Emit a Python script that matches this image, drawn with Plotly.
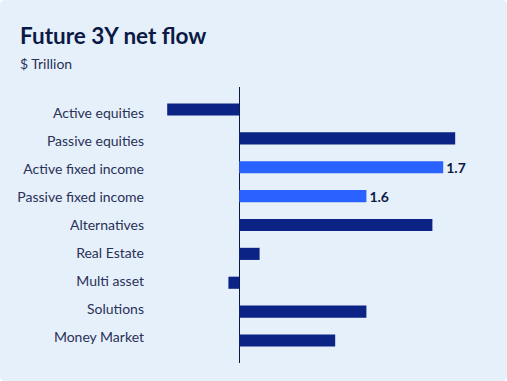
import plotly.graph_objects as go

categories = ["Active equities", "Passive equities", "Active fixed income",
              "Passive fixed income", "Alternatives", "Real Estate",
              "Multi asset", "Solutions", "Money Market"]
values = [-0.60, 1.80, 1.70, 1.06, 1.61, 0.17, -0.09, 1.06, 0.80]
value_labels = ["", "", "1.7", "1.6", "", "", "", "", ""]
highlight = [False, False, True, True, False, False, False, False, False]

DARK = "#0A2384"
BRIGHT = "#2962FF"
colors = [BRIGHT if h else DARK for h in highlight]

W, H = 507, 381
ML, MR, MT, MB = 160, 17, 87, 18
FONT = "Lato"

fig = go.Figure()
fig.add_trace(go.Bar(
    y=categories, x=values, orientation="h",
    marker=dict(color=colors, line=dict(width=0)),
    text=value_labels, textposition="outside", cliponaxis=False,
    constraintext="none",
    textfont=dict(family=FONT, size=14, color="#0B1A45", weight="bold"),
    hoverinfo="skip",
))
# invisible trace carrying the category labels on a slightly tighter axis
fig.add_trace(go.Scatter(
    y=categories, x=[0] * len(categories), yaxis="y2", mode="markers",
    marker=dict(opacity=0), hoverinfo="skip", showlegend=False,
))

fig.update_layout(
    width=W, height=H,
    margin=dict(l=ML, r=MR, t=MT, b=MB),
    paper_bgcolor="white",
    plot_bgcolor="rgba(0,0,0,0)",
    bargap=0.58,
    showlegend=False,
    font=dict(family=FONT, size=14, color="#2A3158"),
    xaxis=dict(range=[-0.66, 2.09], showgrid=False, zeroline=True,
               zerolinecolor="#0B1A45", zerolinewidth=1.2,
               showticklabels=False, ticks="", fixedrange=True),
    yaxis=dict(autorange=False, range=[8.78, -0.78], showgrid=False,
               zeroline=False, ticks="", showticklabels=False,
               fixedrange=True),
    yaxis2=dict(overlaying="y", side="left", autorange=False,
                range=[8.93, -0.93], showgrid=False, zeroline=False,
                ticks="", ticklabelstandoff=15, fixedrange=True,
                tickfont=dict(family=FONT, size=14, color="#2A3158")),
)

# Card background with rounded corners (drawn in pixel-converted paper coords)
pw = W - ML - MR
ph = H - MT - MB
def px(x):
    return (x - ML) / pw
def py(y):
    return 1 - (y - MT) / ph
r = 5
x0, y0, x1, y1 = 0, 0, W, H
path = (f"M {px(x0+r)},{py(y0)} L {px(x1-r)},{py(y0)} "
        f"Q {px(x1)},{py(y0)} {px(x1)},{py(y0+r)} "
        f"L {px(x1)},{py(y1-r)} Q {px(x1)},{py(y1)} {px(x1-r)},{py(y1)} "
        f"L {px(x0+r)},{py(y1)} Q {px(x0)},{py(y1)} {px(x0)},{py(y1-r)} "
        f"L {px(x0)},{py(y0+r)} Q {px(x0)},{py(y0)} {px(x0+r)},{py(y0)} Z")
fig.add_shape(type="path", path=path, xref="paper", yref="paper",
              fillcolor="#E6F0FA", line=dict(width=0), layer="below")

fig.add_annotation(text="<b>Future 3Y net flow</b>", xref="paper", yref="paper",
                   x=px(18), y=py(20), xanchor="left", yanchor="top",
                   showarrow=False,
                   font=dict(family=FONT, size=22.5, color="#0B1A45"))
fig.add_annotation(text="$ Trillion", xref="paper", yref="paper",
                   x=px(18), y=py(53), xanchor="left", yanchor="top",
                   showarrow=False,
                   font=dict(family=FONT, size=14, color="#2A3158"))

fig.write_html("out.html",
               config={"displayModeBar": False, "staticPlot": True},
               post_script="document.body.style.margin='0';document.body.style.overflow='hidden';")
